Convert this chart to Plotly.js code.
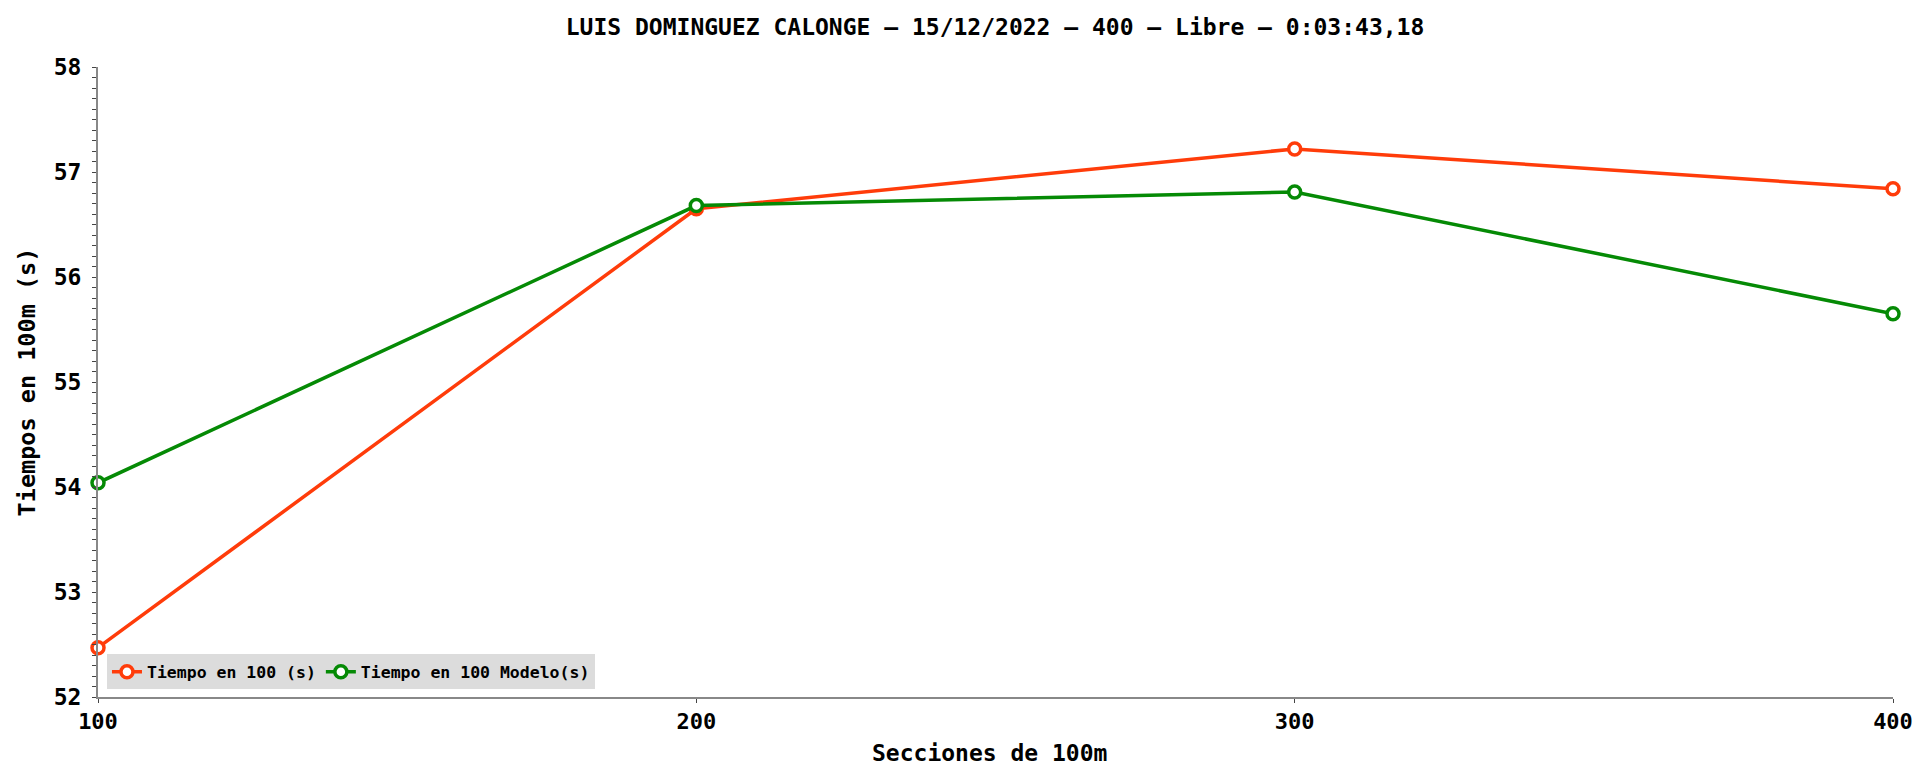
<!DOCTYPE html>
<html>
<head>
<meta charset="utf-8">
<script src="https://cdn.plot.ly/plotly-3.0.1.min.js"></script>
<style>html,body{margin:0;padding:0;background:#fff;}#chart{width:1915px;height:765px;}</style>
</head>
<body>
<div id="chart"></div>
<script>
const secciones = [100, 200, 300, 400];
const tiempo = [52.47, 56.65, 57.22, 56.84];
const tiempoModelo = [54.04, 56.68, 56.81, 55.65];
const xTicks = [100, 200, 300, 400];
const yTicks = [52, 53, 54, 55, 56, 57, 58];

const FONT = '"DejaVu Sans Mono", monospace';
const RED = '#ff3c0a';
const GREEN = '#058a05';

const traces = [
  {
    x: secciones, y: tiempo, name: 'Tiempo en 100 (s)', type: 'scatter', mode: 'lines+markers',
    line: {color: RED, width: 3.5},
    marker: {symbol: 'circle', size: 12, color: '#ffffff', line: {color: RED, width: 3.5}},
    cliponaxis: false
  },
  {
    x: secciones, y: tiempoModelo, name: 'Tiempo en 100 Modelo(s)', type: 'scatter', mode: 'lines+markers',
    line: {color: GREEN, width: 3.5},
    marker: {symbol: 'circle', size: 12, color: '#ffffff', line: {color: GREEN, width: 3.5}},
    cliponaxis: false
  }
];

const layout = {
  width: 1915, height: 765,
  margin: {l: 98, r: 22, t: 67, b: 68},
  paper_bgcolor: '#ffffff', plot_bgcolor: '#ffffff',
  font: {family: FONT, color: '#000000', size: 22, weight: 'bold'},
  title: {text: '<b>LUIS DOMINGUEZ CALONGE – 15/12/2022 – 400 – Libre – 0:03:43,18</b>',
          font: {family: FONT, size: 23, color: '#000'}, x: 0.5196, xanchor: 'center', y: 0.965, yanchor: 'middle'},
  showlegend: true,
  legend: {orientation: 'h', x: 0.005, y: 0.012, xanchor: 'left', yanchor: 'bottom',
           bgcolor: '#dcdcdc', font: {family: FONT, size: 16.5, color: '#000', weight: 'bold'},
           itemwidth: 30, tracegroupgap: 0},
  annotations: [{
    text: '<b>Secciones de 100m</b>', xref: 'paper', yref: 'paper', x: 0.4965, y: -0.089,
    xanchor: 'center', yanchor: 'middle', showarrow: false,
    font: {family: FONT, size: 23, color: '#000'}
  }],
  xaxis: {
    range: [100, 400], tickvals: xTicks, ticktext: xTicks.map(String),
    showgrid: false, zeroline: false, showline: true, linecolor: '#888888', linewidth: 2,
    ticks: 'outside', ticklen: 4, tickcolor: '#444', tickwidth: 1,
    tickfont: {family: FONT, size: 22, color: '#000', weight: 'bold'}
  },
  yaxis: {
    range: [52, 58], tickvals: yTicks, ticktext: yTicks.map(String),
    showgrid: false, zeroline: false, showline: true, linecolor: '#888888', linewidth: 2,
    ticks: 'outside', ticklen: 4, tickcolor: '#444', tickwidth: 1, ticklabelstandoff: 6,
    minor: {dtick: 0.1, tick0: 52, ticks: 'outside', ticklen: 4, tickcolor: '#444', tickwidth: 1, showgrid: false},
    tickfont: {family: FONT, size: 23, color: '#000', weight: 'bold'},
    title: {text: '<b>Tiempos en 100m (s)</b>', font: {family: FONT, size: 23.5, color: '#000'}, standoff: 11}
  },
  yaxis2: {
    overlaying: 'y', anchor: 'x', side: 'left', range: [52, 58], tickvals: yTicks,
    showticklabels: false, showgrid: false, zeroline: false, showline: false,
    ticks: 'inside', ticklen: 4, tickcolor: '#444', tickwidth: 1,
    minor: {dtick: 0.1, tick0: 52, ticks: 'inside', ticklen: 4, tickcolor: '#444', tickwidth: 1, showgrid: false}
  }
};

Plotly.newPlot('chart', traces, layout, {displayModeBar: false, staticPlot: true});
</script>
</body>
</html>
